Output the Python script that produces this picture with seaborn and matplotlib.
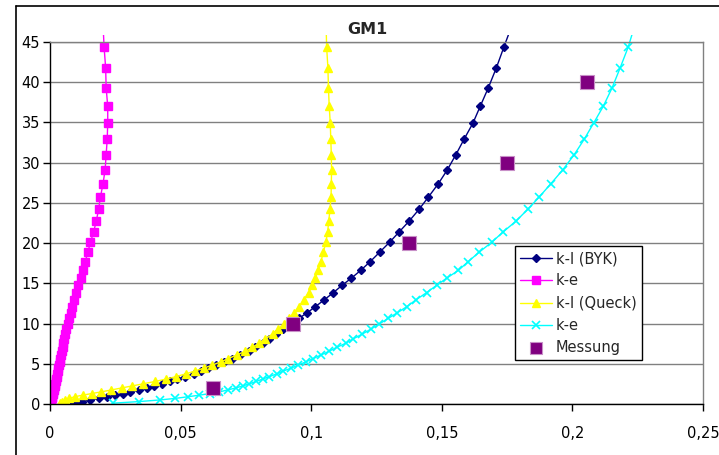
import matplotlib
matplotlib.use("Agg")
import matplotlib.pyplot as plt
import seaborn as sns
import pandas as pd
from matplotlib.patches import Rectangle
from matplotlib.lines import Line2D

heights = [47.2, 44.4, 41.8, 39.3, 37.0, 34.9, 32.9, 31.0, 29.1, 27.4, 25.7, 24.2,
           22.7, 21.4, 20.1, 18.9, 17.7, 16.6, 15.65, 14.75, 13.85, 12.95, 12.1, 11.35,
           10.65, 9.95, 9.3, 8.7, 8.1, 7.55, 7.05, 6.55, 6.1, 5.65, 5.25, 4.85, 4.45,
           4.1, 3.75, 3.4, 3.1, 2.8, 2.5, 2.25, 2.0, 1.75, 1.5, 1.3, 1.1, 0.9, 0.7,
           0.5, 0.3, 0.1]

kl_byk = [0.1770, 0.1738, 0.1709, 0.1678, 0.1647, 0.1619, 0.1585, 0.1554, 0.1521, 0.1487,
          0.1448, 0.1413, 0.1374, 0.1337, 0.1300, 0.1263, 0.1226, 0.1189, 0.1154, 0.1118,
          0.1085, 0.1050, 0.1016, 0.0985, 0.0953, 0.0923, 0.0893, 0.0865, 0.0840, 0.0814,
          0.0785, 0.0760, 0.0728, 0.0695, 0.0668, 0.0636, 0.0606, 0.0578, 0.0550, 0.0515,
          0.0488, 0.0458, 0.0428, 0.0400, 0.0370, 0.0340, 0.0308, 0.0280, 0.0250, 0.0220,
          0.0188, 0.0155, 0.0122, 0.0090]

ke_1 = [0.0203, 0.0207, 0.0213, 0.0215, 0.0221, 0.0221, 0.0219, 0.0215, 0.0211, 0.0203,
        0.0193, 0.0186, 0.0177, 0.0167, 0.0155, 0.0145, 0.0135, 0.0126, 0.0117, 0.0108,
        0.0100, 0.0093, 0.0086, 0.0080, 0.0074, 0.0068, 0.0063, 0.0059, 0.0055, 0.0051,
        0.0048, 0.0045, 0.0042, 0.0039, 0.0037, 0.0034, 0.0032, 0.0030, 0.0028, 0.0026,
        0.0024, 0.0022, 0.0020, 0.0018, 0.0016, 0.0014, 0.0012, 0.0011, 0.0009, 0.0008,
        0.0006, 0.0004, 0.0003, 0.0001]

kl_queck = [0.1057, 0.1059, 0.1064, 0.1066, 0.1069, 0.1073, 0.1075, 0.1077, 0.1078, 0.1077,
            0.1076, 0.1072, 0.1067, 0.1063, 0.1056, 0.1047, 0.1037, 0.1027, 0.1015, 0.1003,
            0.0990, 0.0972, 0.0953, 0.0934, 0.0916, 0.0897, 0.0872, 0.0852, 0.0825, 0.0800,
            0.0775, 0.0748, 0.0715, 0.0683, 0.0655, 0.0622, 0.0588, 0.0555, 0.0520, 0.0482,
            0.0445, 0.0402, 0.0355, 0.0315, 0.0275, 0.0235, 0.0195, 0.0160, 0.0125, 0.0095,
            0.0072, 0.0057, 0.0047, 0.0040]

ke_2 = [0.2240, 0.2214, 0.2183, 0.2152, 0.2118, 0.2081, 0.2045, 0.2007, 0.1963, 0.1918,
        0.1872, 0.1829, 0.1783, 0.1735, 0.1691, 0.1644, 0.1601, 0.1563, 0.1519, 0.1480,
        0.1442, 0.1401, 0.1366, 0.1330, 0.1295, 0.1261, 0.1228, 0.1196, 0.1161, 0.1132,
        0.1098, 0.1068, 0.1038, 0.1008, 0.0980, 0.0951, 0.0923, 0.0893, 0.0868, 0.0840,
        0.0814, 0.0789, 0.0763, 0.0738, 0.0712, 0.0680, 0.0648, 0.0612, 0.0572, 0.0528,
        0.0480, 0.0420, 0.0340, 0.0240]

messung_x = [0.0625, 0.093, 0.1375, 0.175, 0.2055]
messung_y = [2, 10, 20, 30, 40]

x_ticks = [0, 0.05, 0.1, 0.15, 0.2, 0.25]
x_tick_labels = ["0", "0,05", "0,1", "0,15", "0,2", "0,25"]
y_ticks = [0, 5, 10, 15, 20, 25, 30, 35, 40, 45]

sns.set_style("white")
plt.rcParams["font.family"] = ["DejaVu Sans"]

W, H = 719, 455
fig = plt.figure(figsize=(W / 100, H / 100), dpi=100)
L, R, T, B = 50, 703, 42, 404
ax = fig.add_axes([L / W, 1 - B / H, (R - L) / W, (B - T) / H])

series = [
    ("k-l (BYK)", kl_byk, "#000080", "D", 4.2, 1.0),
    ("k-e", ke_1, "#FF00FF", "s", 5.2, 1.0),
    ("k-l (Queck)", kl_queck, "#FFFF00", "^", 6.0, 1.0),
    ("k-e", ke_2, "#00FFFF", "x", 6.0, 1.2),
]
for label, xs, col, mk, ms, mew in series:
    df = pd.DataFrame({"x": xs, "y": heights})
    sns.lineplot(data=df, x="x", y="y", sort=False, estimator=None, ax=ax,
                 color=col, marker=mk, markersize=ms, markeredgecolor=col,
                 markeredgewidth=mew, linewidth=1.0, label=label)

dfm = pd.DataFrame({"x": messung_x, "y": messung_y})
sns.scatterplot(data=dfm, x="x", y="y", ax=ax, marker="s", s=105,
                color="#800080", edgecolor="#C890C8", linewidth=0.8,
                label="Messung", zorder=5)

ax.set_xlim(0, 0.25)
ax.set_ylim(0, 45)
ax.set_xticks(x_ticks)
ax.set_xticklabels(x_tick_labels)
ax.set_yticks(y_ticks)
ax.set_xlabel("")
ax.set_ylabel("")
ax.yaxis.grid(True, color="#808080", linewidth=1.0)
ax.xaxis.grid(False)
ax.set_axisbelow(True)
for s in ["top", "right"]:
    ax.spines[s].set_color("#808080")
    ax.spines[s].set_linewidth(1.0)
for s in ["left", "bottom"]:
    ax.spines[s].set_color("black")
    ax.spines[s].set_linewidth(1.0)
ax.tick_params(axis="both", which="major", direction="out", length=5, width=1,
               color="black", labelsize=10.5, labelcolor="black")
ax.tick_params(axis="x", pad=11)
ax.tick_params(axis="y", pad=2)
ax.tick_params(top=False, right=False, bottom=True, left=True)

# allow curves to run slightly above the plot area, as in the original
clip = Rectangle((0, 0), 1, 1 + 7 / (B - T), transform=ax.transAxes,
                 facecolor="none", edgecolor="none")
ax.add_patch(clip)
for ln in ax.lines:
    ln.set_clip_path(clip)

fig.text(367.5 / W, 1 - 29 / H, "GM1", ha="center", va="center",
         fontsize=11.5, fontweight="bold")

leg = ax.legend(loc="upper left", bbox_to_anchor=(515 / W, 1 - 246 / H),
                bbox_transform=fig.transFigure, frameon=True, fancybox=False,
                edgecolor="black", framealpha=1, fontsize=10.5, borderpad=0.35,
                labelspacing=0.5, handlelength=2.2, handletextpad=0.25,
                borderaxespad=0)
leg.get_frame().set_linewidth(1.0)
try:
    leg.legend_handles[4].set_sizes([70])
except Exception:
    pass

# outer chart frame
fig.add_artist(Line2D([16 / W, 1.0], [1 - 6 / H, 1 - 6 / H], transform=fig.transFigure,
                      color="black", linewidth=1.2))
fig.add_artist(Line2D([16 / W, 16 / W], [0, 1 - 6 / H], transform=fig.transFigure,
                      color="black", linewidth=1.2))

fig.savefig("out.png", dpi=100)
